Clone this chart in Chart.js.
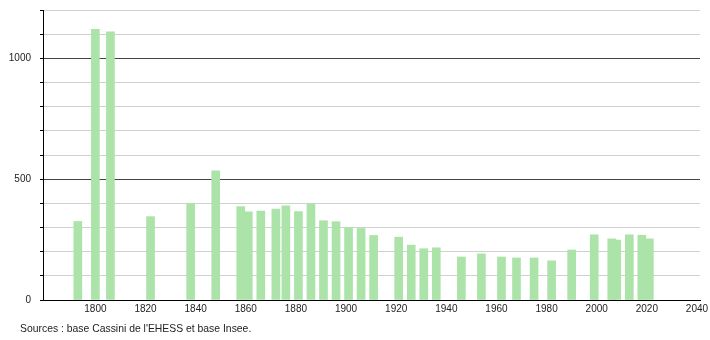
<!DOCTYPE html>
<html lang="fr">
<head>
  <meta charset="UTF-8">
  <title>Population</title>
  <script src="https://cdn.jsdelivr.net/npm/chart.js"></script>
  <style>
    body {
      margin: 0;
      background: #fff;
    }
    #wrap {
      position: relative;
      width: 710px;
      height: 340px;
    }
    .source {
      position: absolute;
      left: 20px;
      top: 323px;
      font-family: 'Liberation Sans', Arial, sans-serif;
      font-size: 10.4px;
      color: #222;
      white-space: nowrap;
    }
  </style>
</head>
<body>
  <div id="wrap">
    <canvas id="popChart" width="710" height="340"></canvas>
    <div class="source">Sources : base Cassini de l'EHESS et base Insee.</div>
  </div>

  <script>
    const years = [1793, 1800, 1806, 1822, 1838, 1848, 1858, 1861, 1866, 1872, 1876, 1881, 1886, 1891,
      1896, 1901, 1906, 1911, 1921, 1926, 1931, 1936, 1946, 1954, 1962, 1968, 1975, 1982, 1990,
      1999, 2006, 2008, 2013, 2018, 2021];
    const population = [325, 1120, 1110, 345, 400, 535, 387, 365, 368, 376, 390, 366, 398, 328,
      324, 300, 296, 267, 260, 227, 212, 216, 178, 191, 178, 174, 174, 162, 207,
      270, 253, 248, 270, 268, 253];
    const xTicks = [1800, 1820, 1840, 1860, 1880, 1900, 1920, 1940, 1960, 1980, 2000, 2020, 2040];
    const yLabels = [0, 500, 1000];

    const barColor = 'rgb(172, 227, 168)';
    const font = { family: "'Liberation Sans', Arial, sans-serif", size: 10 };

    new Chart(document.getElementById('popChart'), {
      type: 'bar',
      data: {
        datasets: [{
          data: years.map((y, i) => ({ x: y, y: population[i] })),
          backgroundColor: barColor,
          borderWidth: 0,
          barThickness: 8
        }]
      },
      options: {
        responsive: false,
        animation: false,
        layout: { padding: { top: 10, right: 10 } },
        plugins: {
          legend: { display: false },
          tooltip: { enabled: false }
        },
        scales: {
          x: {
            type: 'linear',
            offset: false,
            min: 1779.1,
            max: 2041.2,
            afterBuildTicks: scale => { scale.ticks = xTicks.map(v => ({ value: v })); },
            afterFit: scale => {
              scale.height = 40;
              scale.paddingLeft = 0;
              scale.paddingRight = 0;
            },
            grid: { display: false, drawTicks: false },
            border: { display: true, color: '#000', width: 1 },
            ticks: {
              color: '#222',
              font,
              padding: 3,
              maxRotation: 0,
              autoSkip: false,
              callback: v => String(v)
            }
          },
          y: {
            min: 0,
            max: 1200,
            afterFit: scale => {
              scale.width = 43;
              scale.paddingTop = 0;
              scale.paddingBottom = 0;
            },
            border: { display: true, color: '#000', width: 1 },
            grid: {
              color: ctx => (ctx.tick.value === 500 || ctx.tick.value === 1000) ? '#444' : '#d0d0d0',
              tickColor: '#000',
              tickLength: 3
            },
            ticks: {
              stepSize: 100,
              color: '#222',
              font,
              padding: 9,
              callback: v => yLabels.includes(v) ? String(v) : ''
            }
          }
        }
      }
    });
  </script>
</body>
</html>
